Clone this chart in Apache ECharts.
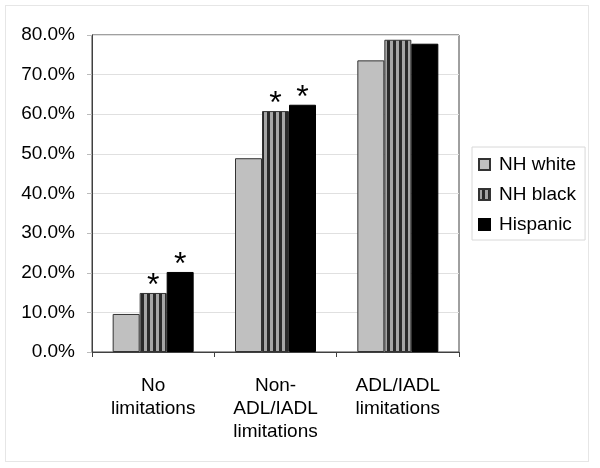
<!DOCTYPE html>
<html>
<head>
<meta charset="utf-8">
<script src="https://cdn.jsdelivr.net/npm/echarts@6/dist/echarts.min.js"></script>
<style>
html,body{margin:0;padding:0;background:#fff;}
#frame{position:absolute;left:5px;top:5px;width:584px;height:457px;border:1px solid #e6e6e6;box-sizing:border-box;}
#chart{position:absolute;left:0;top:0;width:600px;height:468px;}
</style>
</head>
<body>
<div id="frame"></div>
<div id="chart"></div>
<script>
var categories = ['No\nlimitations', 'Non-\nADL/IADL\nlimitations', 'ADL/IADL\nlimitations'];
var seriesNames = ['NH white', 'NH black', 'Hispanic'];
var nhWhite = [9.6, 48.9, 73.6];
var nhBlack = [14.9, 60.8, 78.8];
var hispanic = [20.2, 62.4, 77.8];
var blackSignificant = [true, true, false];
var hispanicSignificant = [true, true, false];
var yTicks = [0, 10, 20, 30, 40, 50, 60, 70, 80];

function stripePattern() {
  var c = document.createElement('canvas');
  c.width = 6; c.height = 6;
  var g = c.getContext('2d');
  g.fillStyle = '#a6a6a6';
  g.fillRect(0, 0, 6, 6);
  g.fillStyle = '#2a2a2a';
  g.fillRect(3, 0, 3, 6);
  return c;
}

function withStars(values, flags) {
  return values.map(function (v, i) {
    return flags[i] ? { value: v, label: { show: true } } : { value: v };
  });
}

var starLabel = {
  show: false,
  position: 'top',
  formatter: '*',
  fontSize: 32,
  fontFamily: 'Liberation Sans',
  color: '#000',
  distance: -9
};

var chart = echarts.init(document.getElementById('chart'), null, { renderer: 'canvas' });
chart.setOption({
  animation: false,
  textStyle: { fontFamily: 'Liberation Sans' },
  grid: { left: 92, top: 35, right: 141, bottom: 116, show: true, borderColor: '#404040', borderWidth: 1 },
  legend: {
    orient: 'vertical',
    left: 472,
    top: 147,
    data: seriesNames,
    icon: 'rect',
    itemWidth: 11,
    itemHeight: 11,
    itemGap: 11,
    padding: [8, 9, 6, 6],
    borderColor: '#d8d8d8',
    borderWidth: 1,
    textStyle: { fontSize: 19, lineHeight: 18, color: '#000', fontFamily: 'Liberation Sans', padding: [0, 0, 0, 4] }
  },
  xAxis: {
    type: 'category',
    data: categories,
    axisLine: { lineStyle: { color: '#404040' } },
    axisTick: { show: true, length: 5, lineStyle: { color: '#404040' } },
    axisLabel: { color: '#000', fontSize: 19, lineHeight: 23, margin: 22, interval: 0 }
  },
  yAxis: {
    type: 'value',
    min: 0,
    max: 80,
    interval: 10,
    axisLine: { show: true, lineStyle: { color: '#404040' } },
    axisTick: { show: true, length: 5, lineStyle: { color: '#bbbbbb' } },
    splitLine: { lineStyle: { color: '#e0e0e0' } },
    axisLabel: {
      color: '#000',
      fontSize: 19,
      margin: 17,
      formatter: function (v) { return yTicks.indexOf(v) >= 0 ? v.toFixed(1) + '%' : ''; }
    }
  },
  series: [
    {
      name: seriesNames[0], type: 'bar', data: nhWhite, barWidth: 27, barGap: '0%',
      itemStyle: { color: '#c0c0c0', borderColor: '#333', borderWidth: 1 }
    },
    {
      name: seriesNames[1], type: 'bar', data: withStars(nhBlack, blackSignificant), barWidth: 27, barGap: '0%',
      itemStyle: { color: { image: stripePattern(), repeat: 'repeat' }, borderColor: '#333', borderWidth: 1 },
      label: starLabel
    },
    {
      name: seriesNames[2], type: 'bar', data: withStars(hispanic, hispanicSignificant), barWidth: 27, barGap: '0%',
      itemStyle: { color: '#000', borderColor: '#000', borderWidth: 1 },
      label: starLabel
    }
  ]
});
</script>
</body>
</html>
